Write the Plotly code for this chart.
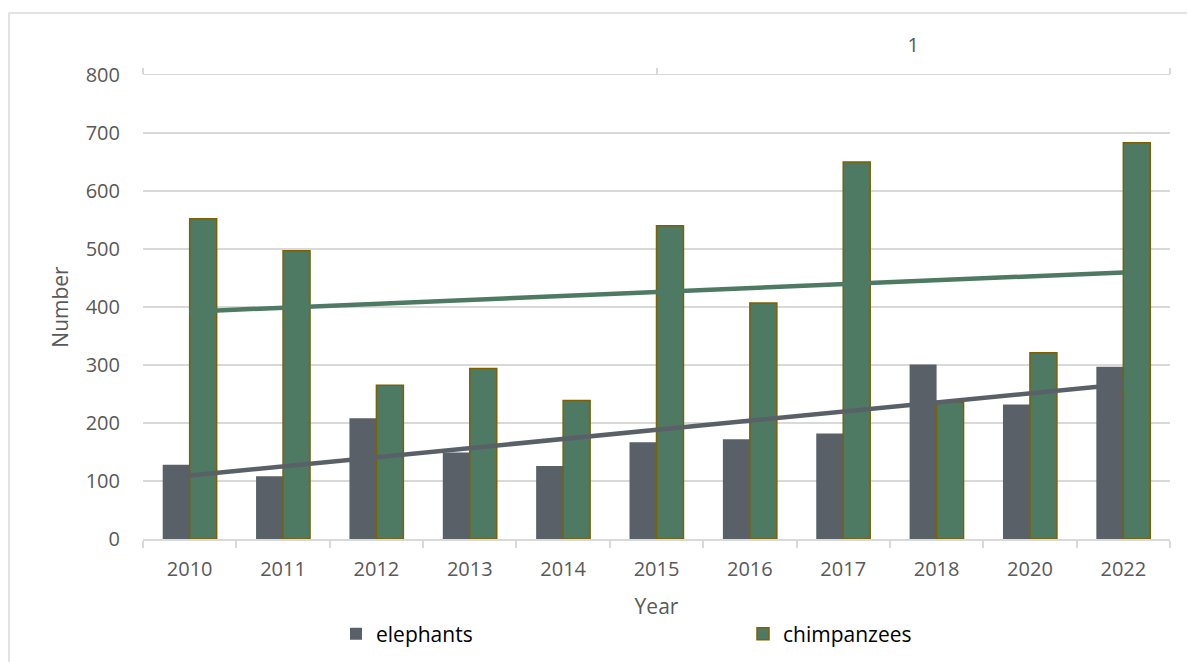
import numpy as np
import plotly.graph_objects as go

years = ["2010", "2011", "2012", "2013", "2014", "2015", "2016", "2017", "2018", "2020", "2022"]
elephants = [128, 108, 208, 149, 126, 167, 172, 182, 301, 232, 297]
chimpanzees = [552, 497, 265, 294, 239, 540, 407, 650, 236, 321, 683]
top_axis_labels = [" ", "1"]

EL_COLOR = "#5a6068"
CH_COLOR = "#4e7a64"
CH_LINE = "#7f6000"
GRID = "#d9d9d9"
TXT = "#595959"
FONT = "Open Sans"

idx = np.arange(1, len(years) + 1)
el_fit = np.polyval(np.polyfit(idx, elephants, 1), idx)
ch_fit = np.polyval(np.polyfit(idx, chimpanzees, 1), idx)

fig = go.Figure()
fig.add_trace(go.Bar(x=years, y=elephants, name="elephants",
                     marker=dict(color=EL_COLOR, line=dict(width=0))))
fig.add_trace(go.Bar(x=years, y=chimpanzees, name="chimpanzees",
                     marker=dict(color=CH_COLOR, line=dict(color=CH_LINE, width=1.5))))
fig.add_trace(go.Scatter(x=years, y=ch_fit, mode="lines", showlegend=False,
                         line=dict(color=CH_COLOR, width=4.5), hoverinfo="skip"))
fig.add_trace(go.Scatter(x=years, y=el_fit, mode="lines", showlegend=False,
                         line=dict(color=EL_COLOR, width=4.5), hoverinfo="skip"))
fig.add_trace(go.Scatter(x=top_axis_labels, y=[None, None], xaxis="x2", mode="lines",
                         showlegend=False, hoverinfo="skip"))

W, H = 1187, 662
L, R, T, B = 143, 17, 75, 123
pw, ph = W - L - R, H - T - B

fig.update_layout(
    width=W, height=H,
    margin=dict(l=L, r=R, t=T, b=B, autoexpand=False),
    paper_bgcolor="white", plot_bgcolor="white",
    font=dict(family=FONT, color=TXT, size=20),
    barmode="group", bargap=0.422, bargroupgap=0,
    showlegend=True,
    legend=dict(orientation="h", x=(336 - L) / pw, xanchor="left",
                y=(H - B - 634) / ph, yanchor="middle",
                entrywidth=362, entrywidthmode="pixels",
                font=dict(family=FONT, size=21, color="#000000"),
                bgcolor="rgba(0,0,0,0)", traceorder="normal"),
    xaxis=dict(type="category", showgrid=False, showline=True, linecolor=GRID, linewidth=1.5,
               ticks="outside", tickson="boundaries", ticklen=7, tickcolor=GRID, tickwidth=1.5,
               tickfont=dict(size=20, color=TXT), ticklabelstandoff=11,
               title=dict(text="Year", font=dict(size=21, color=TXT), standoff=19),
               automargin=False),
    xaxis2=dict(type="category", overlaying="x", side="top", categoryorder="array",
                categoryarray=top_axis_labels, range=[-0.5, 1.5],
                showgrid=False, showline=True, linecolor=GRID, linewidth=1,
                ticks="outside", tickson="boundaries", ticklen=6, tickcolor=GRID, tickwidth=1.5,
                tickfont=dict(size=20, color=TXT), ticklabelstandoff=14, automargin=False),
    yaxis=dict(range=[0, 800], dtick=100, showgrid=True, gridcolor=GRID, gridwidth=1.5,
               zeroline=False, showline=False, ticks="", ticklabelstandoff=22,
               tickfont=dict(size=20, color=TXT),
               title=dict(text="Number", font=dict(size=21, color=TXT), standoff=11),
               automargin=False),
    shapes=[dict(type="rect", xref="paper", yref="paper",
                 x0=(9 - L) / pw, x1=(W + 20 - L) / pw,
                 y0=(H - B - (H + 20)) / ph, y1=(H - B - 13) / ph,
                 line=dict(color=GRID, width=1.5), fillcolor="rgba(0,0,0,0)", layer="below")],
)

fig.write_html("out.html")
